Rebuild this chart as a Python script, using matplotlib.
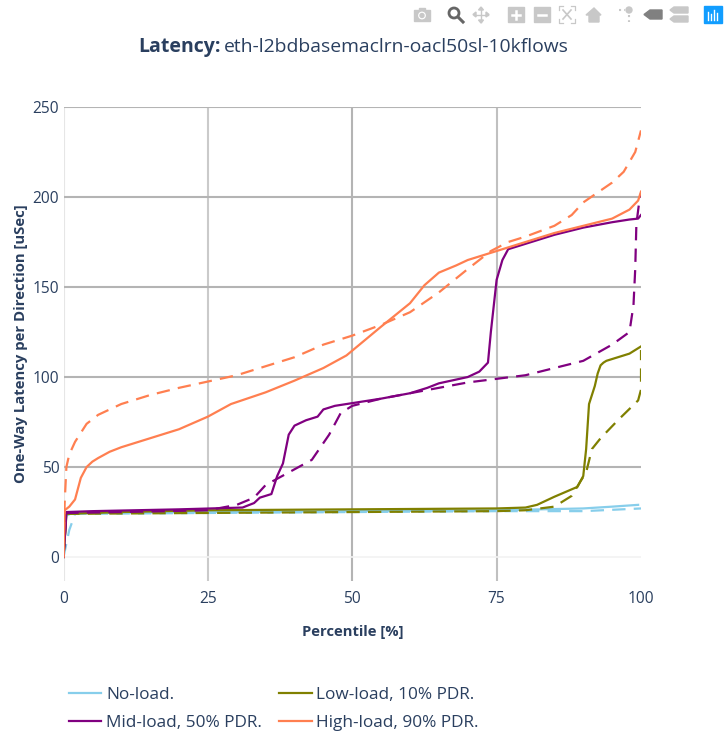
import matplotlib
matplotlib.use('Agg')
import matplotlib.pyplot as plt
from matplotlib.patches import Rectangle, Circle, Polygon

plt.rcParams['font.family'] = ['Open Sans', 'DejaVu Sans']

TEXT = '#2a3f5f'
NO_LOAD = '#87ceeb'
LOW_LOAD = '#808000'
MID_LOAD = '#800080'
HIGH_LOAD = '#ff7f50'

# values, percentile / latency
no_x = [0, 0.5, 1.5, 25, 50, 75, 90, 95, 99.5]
no_y = [0, 23, 24.5, 25, 25.5, 26, 27, 28, 29]
no_dash_x = [0, 1, 2, 25, 50, 75, 90, 100]
no_dash_y = [0, 15, 24, 24.5, 25, 25.5, 25.5, 27]

low_x = [0, 0.5, 10, 25, 50, 75, 80, 82, 85, 89, 90, 90.5, 91, 92, 92.5, 93, 93.5, 94, 96, 98, 100]
low_y = [0, 24, 25, 26, 26.5, 27, 27.5, 29, 33.5, 39, 45, 60, 85, 95, 102, 106.5, 108, 109, 111, 113, 117]
low_dash_x = [0, 0.5, 25, 50, 75, 80, 85, 88, 89.5, 90.5, 91.5, 93, 96, 99.5, 100, 100]
low_dash_y = [0, 24, 24.5, 25, 25.5, 26, 28, 34, 42, 47, 60, 66, 76, 87, 93, 115]

mid_x = [0, 0.5, 5, 20, 31, 33, 34, 36, 37, 38, 39, 40, 42, 44, 45, 47, 50, 55, 60, 63, 65, 70, 72,
         73.5, 74, 75, 76, 77, 80, 85, 90, 95, 98, 99.5, 100]
mid_y = [0, 25, 25.5, 26.5, 27.5, 30, 33, 35, 45, 52, 68, 73, 76, 78, 82, 84, 85.5, 88, 91, 94, 96.5, 100, 103,
         108, 125, 154, 165, 171, 174, 179, 183, 186, 187.5, 188, 190]
mid_dash_x = [0, 0.5, 10, 25, 30, 33, 35, 39, 43, 46, 48, 50, 55, 60, 65, 70, 75, 80, 85, 90, 95, 98,
              98.7, 99, 99.2, 99.6, 100]
mid_dash_y = [0, 24.5, 25, 26, 29, 33, 40, 47, 54, 68, 80, 84, 88, 91, 94, 97, 99, 101, 105, 109, 118, 125,
              140, 160, 185, 195, 202]

high_x = [0, 0.2, 1, 2, 3, 4, 5, 6, 8, 10, 15, 20, 25, 29, 35, 40, 45, 49, 52, 55, 60, 62.5, 65, 68, 70,
          75, 80, 85, 90, 95, 98, 99.5, 100]
high_y = [0, 26, 28, 32, 44, 50, 53, 55, 58.5, 61, 66, 71, 78, 85, 91.5, 98, 105, 112, 120, 128, 141, 151, 158,
          162, 165, 170, 175, 180, 184, 188, 193, 198, 203]
high_dash_x = [0, 0.2, 0.5, 1, 2, 4, 6, 10, 15, 20, 25, 30, 35, 40, 45, 50, 55, 60, 65, 70, 74, 77, 80, 85,
               88, 90, 95, 97, 99, 100]
high_dash_y = [0, 30, 50, 57, 64, 74, 79, 85, 90, 94, 97.5, 101, 106, 111, 118, 123, 129, 136, 147, 160, 170,
               175, 178, 184, 190, 197, 208, 214, 225, 237]

x_ticks = [0, 25, 50, 75, 100]
y_ticks = [0, 50, 100, 150, 200, 250]
grid_colors = ['#e6e6e6', '#cacaca', '#b4b4b4', '#c0c0c0']

fig = plt.figure(figsize=(7.26, 7.38), dpi=100)
W, H = 726, 738
ax = fig.add_axes([63.5 / W, 1 - 581 / H, 577.5 / W, 474 / H])
ax.set_xlim(0, 100)
ax.set_ylim(-13.3, 250)
for s in ax.spines.values():
    s.set_visible(False)

# gridlines
for v, c in zip(x_ticks[:-1], grid_colors):
    ax.axvline(v, color=c, lw=1.5, zorder=1)
for v in y_ticks[1:]:
    ax.axhline(v, color='#b4b4b4', lw=1.5, zorder=1)
ax.axhline(0, color='#f2f2f2', lw=1.2, zorder=1)

line_w = 1.6
dash = (6, 3.7)
ax.plot(no_x, no_y, color=NO_LOAD, lw=line_w, label='No-load.')
ax.plot(no_dash_x, no_dash_y, color=NO_LOAD, lw=line_w, dashes=dash)
ax.plot(low_x, low_y, color=LOW_LOAD, lw=line_w, label='Low-load, 10% PDR.')
ax.plot(low_dash_x, low_dash_y, color=LOW_LOAD, lw=line_w, dashes=dash)
ax.plot(mid_x, mid_y, color=MID_LOAD, lw=line_w, label='Mid-load, 50% PDR.')
ax.plot(mid_dash_x, mid_dash_y, color=MID_LOAD, lw=line_w, dashes=dash)
ax.plot(high_x, high_y, color=HIGH_LOAD, lw=line_w, label='High-load, 90% PDR.')
ax.plot(high_dash_x, high_dash_y, color=HIGH_LOAD, lw=line_w, dashes=dash)

ax.set_xticks(x_ticks)
ax.set_yticks(y_ticks)
ax.tick_params(length=0, labelsize=11.2, labelcolor=TEXT, pad=3)
ax.tick_params(axis='x', pad=7)
ax.set_xlabel('Percentile [%]', fontsize=10.6, fontweight='bold', color=TEXT, labelpad=13)
ax.set_ylabel('One-Way Latency per Direction [uSec]', fontsize=10.7, fontweight='bold', color=TEXT, labelpad=3.5)

# title in two weights
fig.text(138 / W, 1 - 47 / H, 'Latency:', fontsize=14, fontweight='bold', color=TEXT, va='center')
fig.text(224 / W, 1 - 47 / H, 'eth-l2bdbasemaclrn-oacl50sl-10kflows', fontsize=13.9, color=TEXT, va='center')

handles, labels = ax.get_legend_handles_labels()
# plotly fills row by row, matplotlib column by column
order = [0, 2, 1, 3]
fig.legend([handles[i] for i in order], [labels[i] for i in order], ncol=2, frameon=False,
           fontsize=12.45, labelcolor=TEXT, loc='upper left', bbox_to_anchor=(53 / W, 1 - 671.5 / H),
           handlelength=1.9, handletextpad=0.26, columnspacing=0.98, labelspacing=0.66)

# modebar icons
bar = fig.add_axes([0, 0, 1, 1], zorder=5)
bar.set_xlim(0, W)
bar.set_ylim(H, 0)
bar.axis('off')
bar.patch.set_alpha(0)
GREY = '#c8c8c8'
bar.add_patch(Rectangle((414, 10), 16, 11, color=GREY))
bar.add_patch(Rectangle((419, 8), 6, 3, color=GREY))
bar.add_patch(Circle((422, 15.5), 3.2, color='white'))
bar.add_patch(Circle((422, 15.5), 2, color=GREY))
bar.add_patch(Circle((454, 13), 5, fill=False, ec='#666666', lw=2))
bar.plot([458, 463], [17, 22], color='#666666', lw=2.2)
# pan arrows
bar.plot([474, 488], [14.5, 14.5], color=GREY, lw=1)
bar.plot([481, 481], [8, 22], color=GREY, lw=1)
for tri in ([[473, 14.5], [476, 12], [476, 17]], [[489, 14.5], [486, 12], [486, 17]],
            [[481, 7], [478.5, 10], [483.5, 10]], [[481, 23], [478.5, 20], [483.5, 20]]):
    bar.add_patch(Polygon(tri, color=GREY))
for cx in (508, 534):
    bar.add_patch(Rectangle((cx, 7), 16, 15, color=GREY))
bar.plot([512, 520], [14.5, 14.5], color='white', lw=1.8)
bar.plot([516, 516], [10.5, 18.5], color='white', lw=1.8)
bar.plot([538, 546], [14.5, 14.5], color='white', lw=1.8)
# autoscale corners and cross
bar.plot([563, 571], [10, 19], color=GREY, lw=1.2)
bar.plot([563, 571], [19, 10], color=GREY, lw=1.2)
bar.plot([559, 559, 563], [10, 6, 6], color=GREY, lw=0.9)
bar.plot([571, 575, 575], [6, 6, 10], color=GREY, lw=0.9)
bar.plot([559, 559, 563], [19, 23, 23], color=GREY, lw=0.9)
bar.plot([571, 575, 575], [23, 23, 19], color=GREY, lw=0.9)
bar.add_patch(Polygon([[586, 15], [594, 8], [601, 15], [599, 15], [599, 22], [589, 22], [589, 15]], color=GREY))
bar.add_patch(Circle((629, 10), 3, color=GREY))
bar.plot([629, 629], [15, 22], color=GREY, lw=1.5, ls=(0, (1, 1.5)))
bar.plot([619, 625], [10, 10], color=GREY, lw=1.5, ls=(0, (1, 1.5)))
bar.add_patch(Polygon([[644, 14.5], [650, 10], [662, 10], [662, 19], [650, 19]], color='#808080'))
bar.add_patch(Polygon([[670, 10], [674, 7], [688, 7], [688, 13], [674, 13]], color=GREY))
bar.add_patch(Polygon([[670, 19], [674, 16], [688, 16], [688, 22], [674, 22]], color=GREY))
bar.add_patch(Rectangle((704, 6), 18, 17, color='#119dff'))
for lx, ly in ((708, 12), (711, 14), (714, 10), (717, 13)):
    bar.plot([lx, lx], [ly, 20], color='white', lw=1)

fig.savefig('out.png', dpi=100)
